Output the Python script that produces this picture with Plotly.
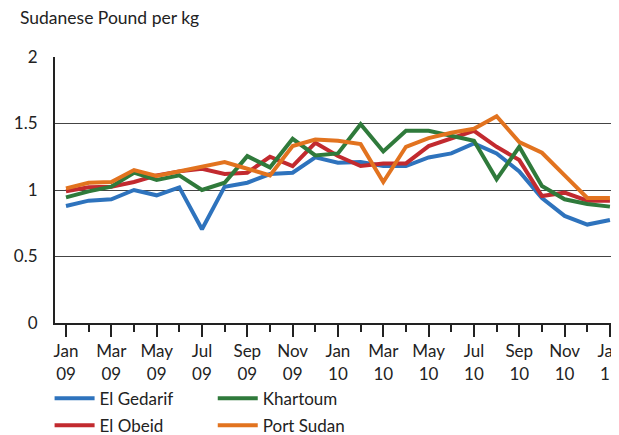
import plotly.graph_objects as go

months = ["Jan 09","Feb 09","Mar 09","Apr 09","May 09","Jun 09","Jul 09","Aug 09","Sep 09","Oct 09","Nov 09","Dec 09",
          "Jan 10","Feb 10","Mar 10","Apr 10","May 10","Jun 10","Jul 10","Aug 10","Sep 10","Oct 10","Nov 10","Dec 10","Jan 11"]

el_gedarif = [0.88,0.92,0.93,1.00,0.96,1.02,0.705,1.025,1.055,1.12,1.13,1.245,
              1.205,1.21,1.18,1.18,1.245,1.275,1.35,1.275,1.14,0.94,0.805,0.74,0.775]
el_obeid = [0.99,1.02,1.025,1.06,1.11,1.14,1.16,1.12,1.13,1.25,1.18,1.355,
            1.255,1.18,1.20,1.20,1.33,1.39,1.445,1.325,1.225,0.955,0.98,0.92,0.92]
khartoum = [0.945,0.99,1.025,1.13,1.075,1.11,1.00,1.055,1.255,1.17,1.385,1.26,
            1.275,1.495,1.29,1.445,1.445,1.41,1.37,1.08,1.325,1.03,0.93,0.895,0.875]
port_sudan = [1.0125,1.055,1.06,1.15,1.105,1.14,1.175,1.21,1.16,1.11,1.33,1.38,
              1.37,1.345,1.06,1.325,1.39,1.43,1.46,1.555,1.36,1.28,1.11,0.94,0.94]

y_ticks = [0, 0.5, 1, 1.5, 2]
y_ticklabels = ["0", "0.5", "1", "1.5", "2"]

FONT = "Lato"
FS = 17
x = list(range(len(months)))
major = x[::2]
minor = x[1::2]
ticktext = [m.replace(" ", "<br>") for m in months[::2]]

series = [
    ("El Gedarif", el_gedarif, "#2e73bd", "legend", 1),
    ("El Obeid", el_obeid, "#c22a2f", "legend", 2),
    ("Khartoum", khartoum, "#2f7a3b", "legend2", 1),
    ("Port Sudan", port_sudan, "#e2731f", "legend2", 2),
]

fig = go.Figure()
for name, vals, color, lg, rank in series:
    fig.add_trace(go.Scatter(x=x, y=vals, mode="lines", name=name, legendgroup=name,
                             line=dict(color=color, width=4), legend=lg, legendrank=rank))

leg_common = dict(yanchor="top", orientation="v", font=dict(family=FONT, size=FS, color="#222"),
                  itemwidth=40, tracegroupgap=2, bgcolor="rgba(0,0,0,0)")
# the page body adds an 8 px offset, so the figure is sized/marginned to compensate
fig.update_layout(
    width=611, height=427,
    margin=dict(l=47, r=0, t=49, b=112, autoexpand=False),
    paper_bgcolor="white", plot_bgcolor="white",
    font=dict(family=FONT, size=FS, color="#222"),
    legend=dict(x=-0.0096, xanchor="left", y=-0.2165, **leg_common),
    legend2=dict(x=0.2797, xanchor="left", y=-0.2165, **leg_common),
    annotations=[dict(text="Sudanese Pound per kg", xref="paper", yref="paper",
                      x=-0.0656, y=1.147, xanchor="left", yanchor="middle",
                      showarrow=False, font=dict(family=FONT, size=17.5, color="#222"))],
)

fig.update_xaxes(range=[-0.485, 24.4], tickmode="array", tickvals=major, ticktext=ticktext,
                 ticks="outside", ticklen=12, tickwidth=2, tickcolor="#222",
                 showline=True, linecolor="#222", linewidth=2, showgrid=False, zeroline=False,
                 automargin=False, ticklabeloverflow="allow",
                 minor=dict(tickmode="array", tickvals=minor, ticks="outside", ticklen=7,
                            tickwidth=2, tickcolor="#222", showgrid=False),
                 tickfont=dict(family=FONT, size=FS, color="#222"))
fig.update_yaxes(range=[0, 2], tickmode="array", tickvals=y_ticks, ticktext=y_ticklabels,
                 showline=True, linecolor="#222", linewidth=2, showgrid=True,
                 gridcolor="#444", gridwidth=1.3, zeroline=False, ticks="",
                 automargin=False, ticklabeloverflow="allow",
                 ticklabelstandoff=12, tickfont=dict(family=FONT, size=FS, color="#222"))

fig.write_html("out.html")
